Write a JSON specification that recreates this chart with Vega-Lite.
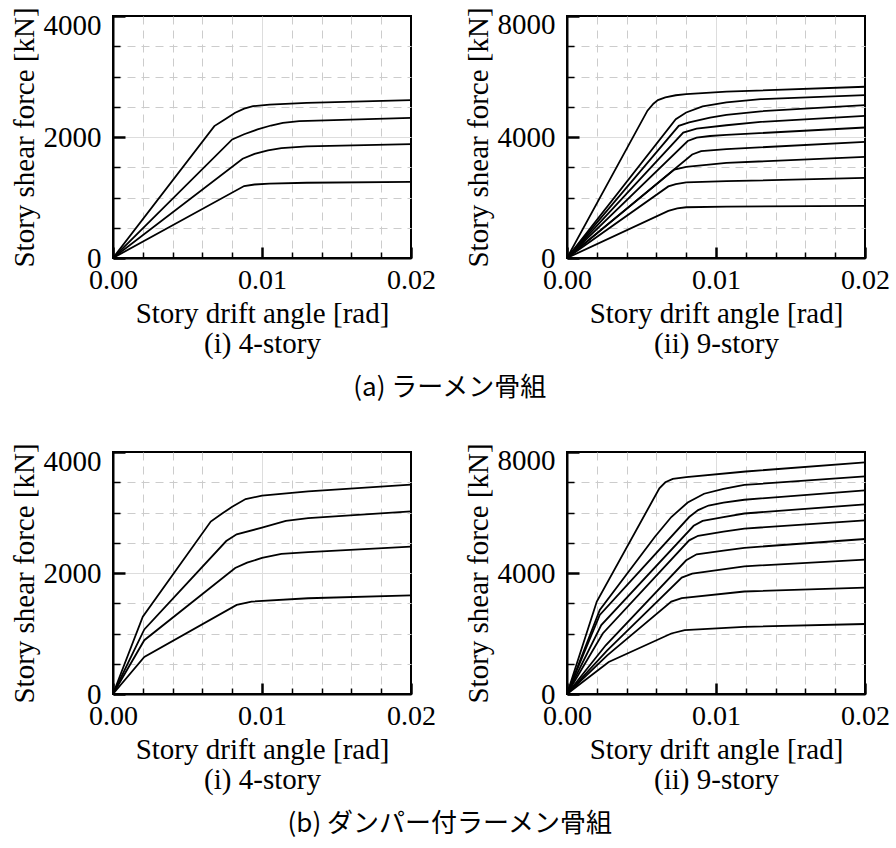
{
  "$schema": "https://vega.github.io/schema/vega-lite/v6.json",
  "background": "white",
  "padding": {"left": 8, "top": 5, "right": 0, "bottom": 4},
  "config": {
    "view": {"stroke": "black", "strokeWidth": 2}
  },
  "datasets": {
    "ai": [
      {"c": 1, "x": 0, "y": 0}, {"c": 1, "x": 0.0068, "y": 2180}, {"c": 1, "x": 0.0075, "y": 2290}, {"c": 1, "x": 0.0082, "y": 2400}, {"c": 1, "x": 0.0088, "y": 2470}, {"c": 1, "x": 0.0094, "y": 2510}, {"c": 1, "x": 0.0105, "y": 2535}, {"c": 1, "x": 0.013, "y": 2565}, {"c": 1, "x": 0.02, "y": 2610},
      {"c": 2, "x": 0, "y": 0}, {"c": 2, "x": 0.008, "y": 1960}, {"c": 2, "x": 0.0088, "y": 2045}, {"c": 2, "x": 0.0097, "y": 2125}, {"c": 2, "x": 0.0106, "y": 2190}, {"c": 2, "x": 0.0114, "y": 2235}, {"c": 2, "x": 0.0125, "y": 2262}, {"c": 2, "x": 0.02, "y": 2317},
      {"c": 3, "x": 0, "y": 0}, {"c": 3, "x": 0.0087, "y": 1640}, {"c": 3, "x": 0.0095, "y": 1720}, {"c": 3, "x": 0.0104, "y": 1780}, {"c": 3, "x": 0.0113, "y": 1815}, {"c": 3, "x": 0.013, "y": 1845}, {"c": 3, "x": 0.02, "y": 1881},
      {"c": 4, "x": 0, "y": 0}, {"c": 4, "x": 0.0088, "y": 1190}, {"c": 4, "x": 0.0095, "y": 1215}, {"c": 4, "x": 0.0105, "y": 1230}, {"c": 4, "x": 0.013, "y": 1244}, {"c": 4, "x": 0.02, "y": 1258}
    ],
    "aii": [
      {"c": 1, "x": 0, "y": 0}, {"c": 1, "x": 0.0054, "y": 4870}, {"c": 1, "x": 0.0058, "y": 5100}, {"c": 1, "x": 0.0061, "y": 5220}, {"c": 1, "x": 0.0066, "y": 5310}, {"c": 1, "x": 0.0073, "y": 5380}, {"c": 1, "x": 0.008, "y": 5420}, {"c": 1, "x": 0.0107, "y": 5500}, {"c": 1, "x": 0.02, "y": 5661},
      {"c": 2, "x": 0, "y": 0}, {"c": 2, "x": 0.0073, "y": 4590}, {"c": 2, "x": 0.008, "y": 4810}, {"c": 2, "x": 0.0091, "y": 5010}, {"c": 2, "x": 0.0107, "y": 5144}, {"c": 2, "x": 0.013, "y": 5250}, {"c": 2, "x": 0.02, "y": 5385},
      {"c": 3, "x": 0, "y": 0}, {"c": 3, "x": 0.0075, "y": 4370}, {"c": 3, "x": 0.0082, "y": 4480}, {"c": 3, "x": 0.0096, "y": 4644}, {"c": 3, "x": 0.0107, "y": 4733}, {"c": 3, "x": 0.013, "y": 4850}, {"c": 3, "x": 0.02, "y": 5054},
      {"c": 4, "x": 0, "y": 0}, {"c": 4, "x": 0.0078, "y": 4144}, {"c": 4, "x": 0.0087, "y": 4278}, {"c": 4, "x": 0.0107, "y": 4389}, {"c": 4, "x": 0.013, "y": 4500}, {"c": 4, "x": 0.02, "y": 4701},
      {"c": 5, "x": 0, "y": 0}, {"c": 5, "x": 0.0081, "y": 3867}, {"c": 5, "x": 0.0087, "y": 3978}, {"c": 5, "x": 0.0096, "y": 4033}, {"c": 5, "x": 0.0107, "y": 4070}, {"c": 5, "x": 0.02, "y": 4314},
      {"c": 6, "x": 0, "y": 0}, {"c": 6, "x": 0.0084, "y": 3422}, {"c": 6, "x": 0.009, "y": 3533}, {"c": 6, "x": 0.0107, "y": 3600}, {"c": 6, "x": 0.02, "y": 3840},
      {"c": 7, "x": 0, "y": 0}, {"c": 7, "x": 0.0072, "y": 2922}, {"c": 7, "x": 0.008, "y": 3011}, {"c": 7, "x": 0.0107, "y": 3144}, {"c": 7, "x": 0.02, "y": 3343},
      {"c": 8, "x": 0, "y": 0}, {"c": 8, "x": 0.0068, "y": 2367}, {"c": 8, "x": 0.0073, "y": 2444}, {"c": 8, "x": 0.008, "y": 2500}, {"c": 8, "x": 0.0107, "y": 2540}, {"c": 8, "x": 0.02, "y": 2648},
      {"c": 9, "x": 0, "y": 0}, {"c": 9, "x": 0.0068, "y": 1556}, {"c": 9, "x": 0.0074, "y": 1640}, {"c": 9, "x": 0.008, "y": 1678}, {"c": 9, "x": 0.0107, "y": 1700}, {"c": 9, "x": 0.02, "y": 1721}
    ],
    "bi": [
      {"c": 1, "x": 0, "y": 0}, {"c": 1, "x": 0.002, "y": 1278}, {"c": 1, "x": 0.00656, "y": 2850}, {"c": 1, "x": 0.0073, "y": 2980}, {"c": 1, "x": 0.008, "y": 3094}, {"c": 1, "x": 0.0089, "y": 3222}, {"c": 1, "x": 0.01, "y": 3278}, {"c": 1, "x": 0.0131, "y": 3350}, {"c": 1, "x": 0.02, "y": 3460},
      {"c": 2, "x": 0, "y": 0}, {"c": 2, "x": 0.0021, "y": 1067}, {"c": 2, "x": 0.0076, "y": 2528}, {"c": 2, "x": 0.0083, "y": 2639}, {"c": 2, "x": 0.01, "y": 2750}, {"c": 2, "x": 0.0116, "y": 2861}, {"c": 2, "x": 0.0131, "y": 2906}, {"c": 2, "x": 0.02, "y": 3019},
      {"c": 3, "x": 0, "y": 0}, {"c": 3, "x": 0.0021, "y": 889}, {"c": 3, "x": 0.0082, "y": 2083}, {"c": 3, "x": 0.009, "y": 2170}, {"c": 3, "x": 0.01, "y": 2250}, {"c": 3, "x": 0.0113, "y": 2317}, {"c": 3, "x": 0.0131, "y": 2344}, {"c": 3, "x": 0.02, "y": 2435},
      {"c": 4, "x": 0, "y": 0}, {"c": 4, "x": 0.0021, "y": 611}, {"c": 4, "x": 0.0083, "y": 1472}, {"c": 4, "x": 0.0093, "y": 1528}, {"c": 4, "x": 0.0131, "y": 1583}, {"c": 4, "x": 0.02, "y": 1631}
    ],
    "bii": [
      {"c": 1, "x": 0, "y": 0}, {"c": 1, "x": 0.002, "y": 3056}, {"c": 1, "x": 0.0062, "y": 6800}, {"c": 1, "x": 0.0066, "y": 7000}, {"c": 1, "x": 0.0071, "y": 7110}, {"c": 1, "x": 0.008, "y": 7170}, {"c": 1, "x": 0.012, "y": 7356}, {"c": 1, "x": 0.02, "y": 7658},
      {"c": 2, "x": 0, "y": 0}, {"c": 2, "x": 0.0022, "y": 2778}, {"c": 2, "x": 0.0059, "y": 5200}, {"c": 2, "x": 0.007, "y": 5850}, {"c": 2, "x": 0.0081, "y": 6330}, {"c": 2, "x": 0.0092, "y": 6620}, {"c": 2, "x": 0.0105, "y": 6780}, {"c": 2, "x": 0.0119, "y": 6911}, {"c": 2, "x": 0.02, "y": 7196},
      {"c": 3, "x": 0, "y": 0}, {"c": 3, "x": 0.0022, "y": 2611}, {"c": 3, "x": 0.0082, "y": 5850}, {"c": 3, "x": 0.0088, "y": 6080}, {"c": 3, "x": 0.0095, "y": 6230}, {"c": 3, "x": 0.0105, "y": 6330}, {"c": 3, "x": 0.0119, "y": 6422}, {"c": 3, "x": 0.02, "y": 6733},
      {"c": 4, "x": 0, "y": 0}, {"c": 4, "x": 0.0023, "y": 2278}, {"c": 4, "x": 0.0085, "y": 5560}, {"c": 4, "x": 0.0091, "y": 5720}, {"c": 4, "x": 0.0105, "y": 5850}, {"c": 4, "x": 0.0119, "y": 5967}, {"c": 4, "x": 0.02, "y": 6270},
      {"c": 5, "x": 0, "y": 0}, {"c": 5, "x": 0.0024, "y": 2000}, {"c": 5, "x": 0.0082, "y": 5080}, {"c": 5, "x": 0.0088, "y": 5230}, {"c": 5, "x": 0.0105, "y": 5370}, {"c": 5, "x": 0.0119, "y": 5467}, {"c": 5, "x": 0.02, "y": 5741},
      {"c": 6, "x": 0, "y": 0}, {"c": 6, "x": 0.0026, "y": 1611}, {"c": 6, "x": 0.008, "y": 4420}, {"c": 6, "x": 0.0087, "y": 4620}, {"c": 6, "x": 0.0105, "y": 4740}, {"c": 6, "x": 0.0119, "y": 4833}, {"c": 6, "x": 0.02, "y": 5124},
      {"c": 7, "x": 0, "y": 0}, {"c": 7, "x": 0.0027, "y": 1444}, {"c": 7, "x": 0.0077, "y": 3850}, {"c": 7, "x": 0.0084, "y": 3980}, {"c": 7, "x": 0.0119, "y": 4222}, {"c": 7, "x": 0.02, "y": 4441},
      {"c": 8, "x": 0, "y": 0}, {"c": 8, "x": 0.0027, "y": 1278}, {"c": 8, "x": 0.007, "y": 3056}, {"c": 8, "x": 0.0077, "y": 3167}, {"c": 8, "x": 0.0119, "y": 3389}, {"c": 8, "x": 0.02, "y": 3515},
      {"c": 9, "x": 0, "y": 0}, {"c": 9, "x": 0.0028, "y": 1056}, {"c": 9, "x": 0.007, "y": 2000}, {"c": 9, "x": 0.0079, "y": 2111}, {"c": 9, "x": 0.0119, "y": 2222}, {"c": 9, "x": 0.02, "y": 2314}
    ]
  },
  "spacing": 40,
  "vconcat": [
    {
      "title": {"text": "(a) ラーメン骨組", "orient": "bottom", "anchor": "middle", "offset": 16, "font": "Noto Sans CJK JP", "fontSize": 26, "fontWeight": "normal", "color": "black"},
      "spacing": 25,
      "hconcat": [
        {
          "width": 298, "height": 242,
          "data": {"name": "ai"},
          "layer": [
            {
              "mark": {"type": "line", "strokeOpacity": 0},
              "encoding": {
                "x": {"field": "x", "type": "quantitative", "scale": {"domain": [0, 0.02], "nice": false},
                  "axis": {"orient": "bottom", "values": [0.002, 0.004, 0.006, 0.008, 0.012, 0.014, 0.016, 0.018], "labels": false, "domain": false, "title": null, "tickSize": -6, "tickWidth": 1.5, "tickColor": "black", "grid": true, "gridColor": "#cccccc", "gridDash": [8, 6], "gridWidth": 1}},
                "y": {"field": "y", "type": "quantitative", "scale": {"domain": [0, 4000], "nice": false},
                  "axis": {"orient": "left", "values": [500, 1000, 1500, 2500, 3000, 3500], "labels": false, "domain": false, "title": null, "tickSize": -7, "tickWidth": 1.5, "tickColor": "black", "grid": true, "gridColor": "#cccccc", "gridDash": [8, 6], "gridWidth": 1}},
                "detail": {"field": "c", "type": "nominal"}
              }
            },
            {
              "mark": {"type": "line", "color": "black", "strokeWidth": 1.8},
              "encoding": {
                "x": {"field": "x", "type": "quantitative",
                  "axis": {"orient": "bottom", "values": [0, 0.01, 0.02], "format": ".2f", "labelFlush": false, "labelFont": "Liberation Serif", "labelFontSize": 28, "labelColor": "black", "tickSize": -11, "tickWidth": 2.5, "tickColor": "black", "grid": true, "gridColor": "#dddddd", "gridOpacity": {"condition": {"test": "datum.value == 0.01", "value": 1}, "value": 0}, "domain": true, "domainColor": "black", "domainWidth": 2, "labelPadding": 19, "title": ["Story drift angle [rad]", "(i) 4-story"], "titleFont": "Liberation Serif", "titleFontSize": 29, "titleFontWeight": "normal", "titleColor": "black", "titlePadding": 5, "titleLineHeight": 30,
                    "encode": {"labels": {"update": {"font": {"value": "Liberation Serif"}}}, "title": {"update": {"font": {"value": "Liberation Serif"}}}}}},
                "y": {"field": "y", "type": "quantitative",
                  "axis": {"orient": "left", "values": [0, 2000, 4000], "format": "d", "labelFont": "Liberation Serif", "labelFontSize": 29, "labelColor": "black", "tickSize": -12, "tickWidth": 2.5, "tickColor": "black", "grid": true, "gridColor": "#dddddd", "gridOpacity": {"condition": {"test": "datum.value == 2000", "value": 1}, "value": 0}, "domain": true, "domainColor": "black", "domainWidth": 2, "labelPadding": 24, "labelOffset": {"condition": {"test": "datum.value == 4000", "value": 9}, "value": 0}, "title": "Story shear force [kN]", "titleFont": "Liberation Serif", "titleFontSize": 29, "titleFontWeight": "normal", "titleColor": "black", "titlePadding": 4,
                    "encode": {"labels": {"update": {"font": {"value": "Liberation Serif"}}}, "title": {"update": {"font": {"value": "Liberation Serif"}}}}}},
                "detail": {"field": "c", "type": "nominal"}
              }
            }
          ],
          "resolve": {"axis": {"x": "independent", "y": "independent"}}
        },
        {
          "width": 298, "height": 242,
          "data": {"name": "aii"},
          "layer": [
            {
              "mark": {"type": "line", "strokeOpacity": 0},
              "encoding": {
                "x": {"field": "x", "type": "quantitative", "scale": {"domain": [0, 0.02], "nice": false},
                  "axis": {"orient": "bottom", "values": [0.002, 0.004, 0.006, 0.008, 0.012, 0.014, 0.016, 0.018], "labels": false, "domain": false, "title": null, "tickSize": -6, "tickWidth": 1.5, "tickColor": "black", "grid": true, "gridColor": "#cccccc", "gridDash": [8, 6], "gridWidth": 1}},
                "y": {"field": "y", "type": "quantitative", "scale": {"domain": [0, 8000], "nice": false},
                  "axis": {"orient": "left", "values": [1000, 2000, 3000, 5000, 6000, 7000], "labels": false, "domain": false, "title": null, "tickSize": -7, "tickWidth": 1.5, "tickColor": "black", "grid": true, "gridColor": "#cccccc", "gridDash": [8, 6], "gridWidth": 1}},
                "detail": {"field": "c", "type": "nominal"}
              }
            },
            {
              "mark": {"type": "line", "color": "black", "strokeWidth": 1.8},
              "encoding": {
                "x": {"field": "x", "type": "quantitative",
                  "axis": {"orient": "bottom", "values": [0, 0.01, 0.02], "format": ".2f", "labelFlush": false, "labelFont": "Liberation Serif", "labelFontSize": 28, "labelColor": "black", "tickSize": -11, "tickWidth": 2.5, "tickColor": "black", "grid": true, "gridColor": "#dddddd", "gridOpacity": {"condition": {"test": "datum.value == 0.01", "value": 1}, "value": 0}, "domain": true, "domainColor": "black", "domainWidth": 2, "labelPadding": 19, "title": ["Story drift angle [rad]", "(ii) 9-story"], "titleFont": "Liberation Serif", "titleFontSize": 29, "titleFontWeight": "normal", "titleColor": "black", "titlePadding": 5, "titleLineHeight": 30,
                    "encode": {"labels": {"update": {"font": {"value": "Liberation Serif"}}}, "title": {"update": {"font": {"value": "Liberation Serif"}}}}}},
                "y": {"field": "y", "type": "quantitative",
                  "axis": {"orient": "left", "values": [0, 4000, 8000], "format": "d", "labelFont": "Liberation Serif", "labelFontSize": 29, "labelColor": "black", "tickSize": -12, "tickWidth": 2.5, "tickColor": "black", "grid": true, "gridColor": "#dddddd", "gridOpacity": {"condition": {"test": "datum.value == 4000", "value": 1}, "value": 0}, "domain": true, "domainColor": "black", "domainWidth": 2, "labelPadding": 24, "labelOffset": {"condition": {"test": "datum.value == 8000", "value": 8}, "value": 0}, "title": "Story shear force [kN]", "titleFont": "Liberation Serif", "titleFontSize": 29, "titleFontWeight": "normal", "titleColor": "black", "titlePadding": 4,
                    "encode": {"labels": {"update": {"font": {"value": "Liberation Serif"}}}, "title": {"update": {"font": {"value": "Liberation Serif"}}}}}},
                "detail": {"field": "c", "type": "nominal"}
              }
            }
          ],
          "resolve": {"axis": {"x": "independent", "y": "independent"}}
        }
      ]
    },
    {
      "title": {"text": "(b) ダンパー付ラーメン骨組", "orient": "bottom", "anchor": "middle", "offset": 16, "font": "Noto Sans CJK JP", "fontSize": 26, "fontWeight": "normal", "color": "black"},
      "spacing": 25,
      "hconcat": [
        {
          "width": 298, "height": 242,
          "data": {"name": "bi"},
          "layer": [
            {
              "mark": {"type": "line", "strokeOpacity": 0},
              "encoding": {
                "x": {"field": "x", "type": "quantitative", "scale": {"domain": [0, 0.02], "nice": false},
                  "axis": {"orient": "bottom", "values": [0.002, 0.004, 0.006, 0.008, 0.012, 0.014, 0.016, 0.018], "labels": false, "domain": false, "title": null, "tickSize": -6, "tickWidth": 1.5, "tickColor": "black", "grid": true, "gridColor": "#cccccc", "gridDash": [8, 6], "gridWidth": 1}},
                "y": {"field": "y", "type": "quantitative", "scale": {"domain": [0, 4000], "nice": false},
                  "axis": {"orient": "left", "values": [500, 1000, 1500, 2500, 3000, 3500], "labels": false, "domain": false, "title": null, "tickSize": -7, "tickWidth": 1.5, "tickColor": "black", "grid": true, "gridColor": "#cccccc", "gridDash": [8, 6], "gridWidth": 1}},
                "detail": {"field": "c", "type": "nominal"}
              }
            },
            {
              "mark": {"type": "line", "color": "black", "strokeWidth": 1.8},
              "encoding": {
                "x": {"field": "x", "type": "quantitative",
                  "axis": {"orient": "bottom", "values": [0, 0.01, 0.02], "format": ".2f", "labelFlush": false, "labelFont": "Liberation Serif", "labelFontSize": 28, "labelColor": "black", "tickSize": -11, "tickWidth": 2.5, "tickColor": "black", "grid": true, "gridColor": "#dddddd", "gridOpacity": {"condition": {"test": "datum.value == 0.01", "value": 1}, "value": 0}, "domain": true, "domainColor": "black", "domainWidth": 2, "labelPadding": 19, "title": ["Story drift angle [rad]", "(i) 4-story"], "titleFont": "Liberation Serif", "titleFontSize": 29, "titleFontWeight": "normal", "titleColor": "black", "titlePadding": 5, "titleLineHeight": 30,
                    "encode": {"labels": {"update": {"font": {"value": "Liberation Serif"}}}, "title": {"update": {"font": {"value": "Liberation Serif"}}}}}},
                "y": {"field": "y", "type": "quantitative",
                  "axis": {"orient": "left", "values": [0, 2000, 4000], "format": "d", "labelFont": "Liberation Serif", "labelFontSize": 29, "labelColor": "black", "tickSize": -12, "tickWidth": 2.5, "tickColor": "black", "grid": true, "gridColor": "#dddddd", "gridOpacity": {"condition": {"test": "datum.value == 2000", "value": 1}, "value": 0}, "domain": true, "domainColor": "black", "domainWidth": 2, "labelPadding": 24, "labelOffset": {"condition": {"test": "datum.value == 4000", "value": 9}, "value": 0}, "title": "Story shear force [kN]", "titleFont": "Liberation Serif", "titleFontSize": 29, "titleFontWeight": "normal", "titleColor": "black", "titlePadding": 4,
                    "encode": {"labels": {"update": {"font": {"value": "Liberation Serif"}}}, "title": {"update": {"font": {"value": "Liberation Serif"}}}}}},
                "detail": {"field": "c", "type": "nominal"}
              }
            }
          ],
          "resolve": {"axis": {"x": "independent", "y": "independent"}}
        },
        {
          "width": 298, "height": 242,
          "data": {"name": "bii"},
          "layer": [
            {
              "mark": {"type": "line", "strokeOpacity": 0},
              "encoding": {
                "x": {"field": "x", "type": "quantitative", "scale": {"domain": [0, 0.02], "nice": false},
                  "axis": {"orient": "bottom", "values": [0.002, 0.004, 0.006, 0.008, 0.012, 0.014, 0.016, 0.018], "labels": false, "domain": false, "title": null, "tickSize": -6, "tickWidth": 1.5, "tickColor": "black", "grid": true, "gridColor": "#cccccc", "gridDash": [8, 6], "gridWidth": 1}},
                "y": {"field": "y", "type": "quantitative", "scale": {"domain": [0, 8000], "nice": false},
                  "axis": {"orient": "left", "values": [1000, 2000, 3000, 5000, 6000, 7000], "labels": false, "domain": false, "title": null, "tickSize": -7, "tickWidth": 1.5, "tickColor": "black", "grid": true, "gridColor": "#cccccc", "gridDash": [8, 6], "gridWidth": 1}},
                "detail": {"field": "c", "type": "nominal"}
              }
            },
            {
              "mark": {"type": "line", "color": "black", "strokeWidth": 1.8},
              "encoding": {
                "x": {"field": "x", "type": "quantitative",
                  "axis": {"orient": "bottom", "values": [0, 0.01, 0.02], "format": ".2f", "labelFlush": false, "labelFont": "Liberation Serif", "labelFontSize": 28, "labelColor": "black", "tickSize": -11, "tickWidth": 2.5, "tickColor": "black", "grid": true, "gridColor": "#dddddd", "gridOpacity": {"condition": {"test": "datum.value == 0.01", "value": 1}, "value": 0}, "domain": true, "domainColor": "black", "domainWidth": 2, "labelPadding": 19, "title": ["Story drift angle [rad]", "(ii) 9-story"], "titleFont": "Liberation Serif", "titleFontSize": 29, "titleFontWeight": "normal", "titleColor": "black", "titlePadding": 5, "titleLineHeight": 30,
                    "encode": {"labels": {"update": {"font": {"value": "Liberation Serif"}}}, "title": {"update": {"font": {"value": "Liberation Serif"}}}}}},
                "y": {"field": "y", "type": "quantitative",
                  "axis": {"orient": "left", "values": [0, 4000, 8000], "format": "d", "labelFont": "Liberation Serif", "labelFontSize": 29, "labelColor": "black", "tickSize": -12, "tickWidth": 2.5, "tickColor": "black", "grid": true, "gridColor": "#dddddd", "gridOpacity": {"condition": {"test": "datum.value == 4000", "value": 1}, "value": 0}, "domain": true, "domainColor": "black", "domainWidth": 2, "labelPadding": 24, "labelOffset": {"condition": {"test": "datum.value == 8000", "value": 8}, "value": 0}, "title": "Story shear force [kN]", "titleFont": "Liberation Serif", "titleFontSize": 29, "titleFontWeight": "normal", "titleColor": "black", "titlePadding": 4,
                    "encode": {"labels": {"update": {"font": {"value": "Liberation Serif"}}}, "title": {"update": {"font": {"value": "Liberation Serif"}}}}}},
                "detail": {"field": "c", "type": "nominal"}
              }
            }
          ],
          "resolve": {"axis": {"x": "independent", "y": "independent"}}
        }
      ]
    }
  ]
}
